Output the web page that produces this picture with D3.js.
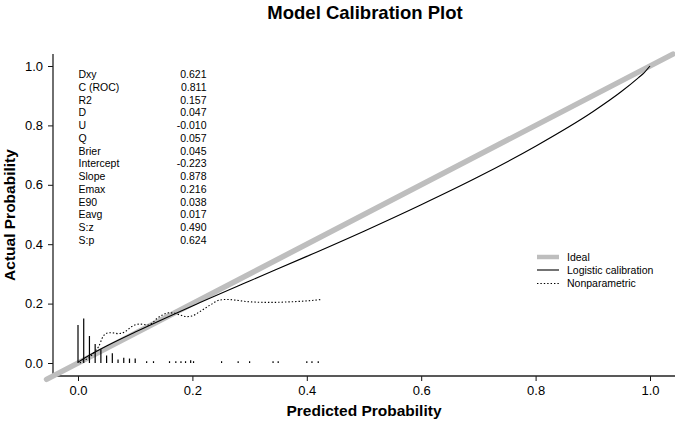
<!DOCTYPE html>
<html>
<head>
<meta charset="utf-8">
<script src="https://cdn.jsdelivr.net/npm/d3@7"></script>
<style>
  body { margin: 0; background: #fff; }
  text { font-family: "Liberation Sans", Arial, sans-serif; fill: #000; }
</style>
</head>
<body>
<script>
// stats printed in the top left corner
const statNames = ["Dxy", "C (ROC)", "R2", "D", "U", "Q", "Brier", "Intercept",
                   "Slope", "Emax", "E90", "Eavg", "S:z", "S:p"];
const statValues = ["0.621", "0.811", "0.157", "0.047", "-0.010", "0.057", "0.045",
                    "-0.223", "0.878", "0.216", "0.038", "0.017", "0.490", "0.624"];

const ticks = [0, 0.2, 0.4, 0.6, 0.8, 1.0];

// ideal line end points
const idealX = [-0.055, 1.04];

// logistic calibration curve (predicted, actual)
const logPred = [0, 0.02, 0.05, 0.1, 0.2, 0.3, 0.4, 0.5, 0.6, 0.7, 0.8, 0.9, 0.95, 0.98, 0.99, 1.0];
const logAct  = [0.003, 0.026, 0.057, 0.104, 0.192, 0.276, 0.359, 0.444, 0.533, 0.627, 0.730, 0.846, 0.914, 0.961, 0.978, 1.0];

// nonparametric (loess) curve
const npPred = [0.003, 0.012, 0.021, 0.030, 0.036, 0.044, 0.050, 0.056, 0.063, 0.070, 0.076, 0.082,
                0.094, 0.108, 0.123, 0.130, 0.138, 0.149, 0.160, 0.168, 0.178, 0.190, 0.199,
                0.213, 0.231, 0.248, 0.260, 0.300, 0.336, 0.371, 0.406, 0.426];
const npAct  = [0.000, 0.010, 0.020, 0.040, 0.055, 0.090, 0.100, 0.102, 0.101, 0.099, 0.100, 0.105,
                0.123, 0.131, 0.128, 0.135, 0.150, 0.163, 0.169, 0.168, 0.162, 0.156, 0.158,
                0.173, 0.195, 0.212, 0.214, 0.206, 0.204, 0.206, 0.210, 0.214];

// spike histogram of predictions
const spikeX = [0.000, 0.010, 0.020, 0.030, 0.040, 0.050, 0.060, 0.070, 0.080, 0.090, 0.100,
                0.120, 0.132, 0.160, 0.171, 0.180, 0.188, 0.197, 0.202, 0.251, 0.280, 0.300,
                0.341, 0.350, 0.400, 0.409, 0.420];
const spikeH = [0.128, 0.150, 0.091, 0.064, 0.046, 0.025, 0.033, 0.012, 0.018, 0.015, 0.015,
                0.006, 0.006, 0.006, 0.006, 0.006, 0.006, 0.009, 0.006, 0.006, 0.006, 0.006,
                0.006, 0.006, 0.006, 0.006, 0.006];

const legendNames = ["Ideal", "Logistic calibration", "Nonparametric"];

const W = 675, H = 432;
const svg = d3.select("body").append("svg").attr("width", W).attr("height", H);

const x = d3.scaleLinear().domain([0, 1]).range([78, 650]);
const y = d3.scaleLinear().domain([0, 1]).range([363, 66]);

const plotL = 53, plotB = 376, plotT = 54, plotR = 675;

// title
svg.append("text").attr("x", 365).attr("y", 19).attr("text-anchor", "middle")
  .style("font-size", "18.5px").style("font-weight", "bold").text("Model Calibration Plot");

// axes
const xAxis = svg.append("g").attr("transform", `translate(0,${plotB})`)
  .call(d3.axisBottom(x).tickValues(ticks).tickFormat(d3.format(".1f")).tickSize(5).tickPadding(5));
const yAxis = svg.append("g").attr("transform", `translate(${plotL},0)`)
  .call(d3.axisLeft(y).tickValues(ticks).tickFormat(d3.format(".1f")).tickSize(5).tickPadding(5));
[xAxis, yAxis].forEach(a => {
  a.select(".domain").remove();
  a.selectAll(".tick line").attr("stroke", "#111").attr("stroke-width", 1);
  a.selectAll(".tick text").style("font-size", "13px").style("font-family", "Liberation Sans, Arial, sans-serif").attr("fill", "#000");
});
svg.append("line").attr("x1", plotL).attr("x2", plotR).attr("y1", plotB).attr("y2", plotB)
  .attr("stroke", "#222").attr("stroke-width", 1.3);
svg.append("line").attr("x1", plotL).attr("x2", plotL).attr("y1", plotT).attr("y2", plotB)
  .attr("stroke", "#222").attr("stroke-width", 1.3);

// axis titles
svg.append("text").attr("x", 364).attr("y", 416).attr("text-anchor", "middle")
  .style("font-size", "15.5px").style("font-weight", "bold").text("Predicted Probability");
svg.append("text").attr("transform", `translate(15,215) rotate(-90)`).attr("text-anchor", "middle")
  .style("font-size", "15.5px").style("font-weight", "bold").text("Actual Probability");

// ideal line
svg.append("line")
  .attr("x1", x(idealX[0])).attr("y1", y(idealX[0]))
  .attr("x2", x(idealX[1])).attr("y2", y(idealX[1]))
  .attr("stroke", "#bebebe").attr("stroke-width", 5.5).attr("stroke-linecap", "round");

// spikes
svg.append("g").selectAll("line").data(spikeX).join("line")
  .attr("x1", d => x(d)).attr("x2", d => x(d))
  .attr("y1", y(0)).attr("y2", (d, i) => y(spikeH[i]))
  .attr("stroke", "#000").attr("stroke-width", 1.2);

const line = d3.line().x(d => x(d[0])).y(d => y(d[1])).curve(d3.curveMonotoneX);

svg.append("path").datum(logPred.map((p, i) => [p, logAct[i]]))
  .attr("d", line).attr("fill", "none").attr("stroke", "#000").attr("stroke-width", 1.1);

svg.append("path").datum(npPred.map((p, i) => [p, npAct[i]]))
  .attr("d", line).attr("fill", "none").attr("stroke", "#000").attr("stroke-width", 1.1)
  .attr("stroke-dasharray", "1.4,2");

// stats block
const stats = svg.append("g");
statNames.forEach((n, i) => {
  const yy = 78 + i * 12.75;
  stats.append("text").attr("x", 78.5).attr("y", yy).style("font-size", "10.5px").text(n);
  stats.append("text").attr("x", 206.5).attr("y", yy).attr("text-anchor", "end")
    .style("font-size", "10.5px").text(statValues[i]);
});

// legend
const leg = svg.append("g");
const legY = [257, 270, 283.5];
const legStyle = [
  {stroke: "#bebebe", w: 4.5, dash: null},
  {stroke: "#000", w: 1.1, dash: null},
  {stroke: "#000", w: 1.1, dash: "1.4,2"}
];
legendNames.forEach((n, i) => {
  leg.append("line").attr("x1", 537).attr("x2", 559).attr("y1", legY[i]).attr("y2", legY[i])
    .attr("stroke", legStyle[i].stroke).attr("stroke-width", legStyle[i].w)
    .attr("stroke-dasharray", legStyle[i].dash);
  leg.append("text").attr("x", 567).attr("y", legY[i] + 3.8).style("font-size", "10.5px").text(n);
});
</script>
</body>
</html>
